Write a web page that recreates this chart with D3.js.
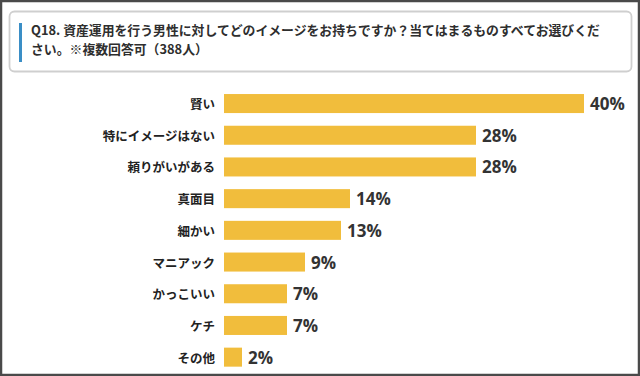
<!DOCTYPE html>
<html>
<head>
    <meta charset="utf-8">
    <title></title>
    <style>
        body { margin: 0; background: #fff; }
        .cat { font-family: "Noto Sans CJK JP", sans-serif; font-weight: bold; font-size: 12.5px; fill: #222; }
        .val { font-family: "Open Sans", sans-serif; font-weight: bold; font-size: 17px; fill: #333; }
        .title { font-family: "Noto Sans CJK JP", sans-serif; font-weight: bold; font-size: 12.85px; fill: #2e2e2e; }
    </style>
</head>
<body>
<script src="https://cdn.jsdelivr.net/npm/d3@7/dist/d3.min.js"></script>
<script>
    var width  = 640;
    var height = 376;

    // data
    var categories = ["賢い", "特にイメージはない", "頼りがいがある", "真面目", "細かい", "マニアック", "かっこいい", "ケチ", "その他"];
    var values = [40, 28, 28, 14, 13, 9, 7, 7, 2];
    var titleLines = ["Q18. 資産運用を行う男性に対してどのイメージをお持ちですか？当てはまるものすべてお選びくだ",
                      "さい。※複数回答可（388人）"];

    var svg = d3.select("body").append("svg")
        .attr("width", width)
        .attr("height", height);

    // outer frame
    svg.append("rect")
        .attr("x", 1).attr("y", 1)
        .attr("width", width - 2).attr("height", height - 2)
        .attr("fill", "#fff")
        .attr("stroke", "#4a4a4a")
        .attr("stroke-width", 2.5);

    // title box
    svg.append("rect")
        .attr("x", 9.5).attr("y", 11.5)
        .attr("width", 622).attr("height", 60)
        .attr("rx", 5)
        .attr("fill", "#fff")
        .attr("stroke", "#cfcfcf")
        .attr("stroke-width", 1.8);

    svg.append("rect")
        .attr("x", 19).attr("y", 23)
        .attr("width", 3).attr("height", 39)
        .attr("fill", "#3a8ec6");

    svg.selectAll(".title")
        .data(titleLines)
        .enter()
        .append("text")
        .attr("class", "title")
        .attr("x", 31)
        .attr("y", function(d, i) { return 35 + i * 19; })
        .text(function(d) { return d; });

    var x = d3.scaleLinear()
        .domain([0, 40])
        .range([224, 584]);

    var y = d3.scaleBand()
        .domain(categories)
        .range([87.7, 373])
        .paddingInner(0.4)
        .paddingOuter(0.2);

    var g = svg.append("g");

    g.selectAll(".bar")
        .data(values)
        .enter()
        .append("rect")
        .attr("class", "bar")
        .attr("x", x(0))
        .attr("y", function(d, i) { return y(categories[i]); })
        .attr("width", function(d) { return x(d) - x(0); })
        .attr("height", y.bandwidth())
        .attr("fill", "#f1bd3c");

    g.selectAll(".cat")
        .data(categories)
        .enter()
        .append("text")
        .attr("class", "cat")
        .attr("x", 215)
        .attr("y", function(d) { return y(d) + y.bandwidth() / 2; })
        .attr("text-anchor", "end")
        .attr("dominant-baseline", "central")
        .text(function(d) { return d; });

    g.selectAll(".val")
        .data(values)
        .enter()
        .append("text")
        .attr("class", "val")
        .attr("x", function(d) { return x(d) + 6; })
        .attr("y", function(d, i) { return y(categories[i]) + y.bandwidth() / 2 + 6.5; })
        .text(function(d) { return d + "%"; });
</script>
</body>
</html>
